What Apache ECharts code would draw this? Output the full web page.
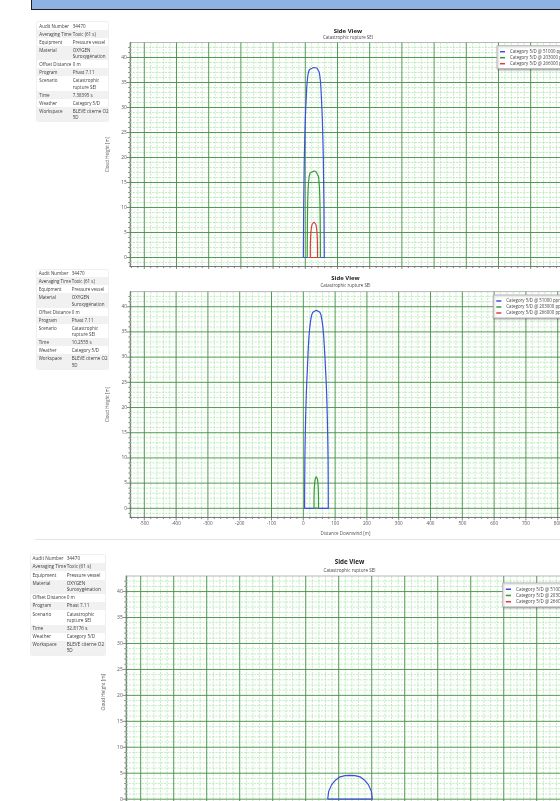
<!DOCTYPE html>
<html>
<head>
<meta charset="utf-8">
<script src="https://cdn.jsdelivr.net/npm/echarts@6/dist/echarts.min.js"></script>
<style>
html, body { margin: 0; padding: 0; background: #fff; }
#page { position: relative; width: 560px; height: 801px; overflow: hidden; background: #fff; }
.chart { position: absolute; left: 0; width: 560px; }
.bar { position: absolute; left: 31px; top: 0; width: 529px; height: 9px; background: #8fb2e4;
       border-left: 1px solid #1e1e1e; border-bottom: 1.5px solid #1e1e1e; z-index: 6; }
.info { position: absolute; background: #fff; box-shadow: 0 0 1.2px rgba(0,0,0,0.3);
        font-family: "Open Sans", "Noto Sans", sans-serif; color: #3c3c3c; z-index: 5; }
.info .rows .row { display: flex; white-space: nowrap; }
.info .rows .row:nth-child(even) { background: #f1f1f1; }
.info .k { flex: none; box-sizing: border-box; }
.info .pin { position: absolute; background: #2a2a2a; width: 2px; height: 2px; }
.sep { position: absolute; height: 1px; background: #e4e4e4; }
</style>
</head>
<body>
<div id="page">
  <div class="bar"></div>
  <div id="c1" class="chart"></div>
  <div id="c2" class="chart"></div>
  <div id="c3" class="chart"></div>
  <div class="sep" style="left:35px;top:539px;width:525px"></div>
</div>
<script>
// ---- axis ticks and legend ----
const X_TICKS = [-500, -400, -300, -200, -100, 0, 100, 200, 300, 400, 500, 600, 700, 800];
const Y_TICKS = [0, 5, 10, 15, 20, 25, 30, 35, 40];
const LEGEND_NAMES = ['Category 5/D @ 51000 ppm', 'Category 5/D @ 203000 ppm', 'Category 5/D @ 266000 ppm'];

// ---- info panel text ----
const INFO_LABELS = ['Audit Number', 'Averaging Time', 'Equipment', 'Material', 'Offset Distance',
                     'Program', 'Scenario', 'Time', 'Weather', 'Workspace'];
const INFO_VALUES = [['34470'], ['Toxic (61 s)'], ['Pressure vessel'], ['OXYGEN', 'Suroxygénation'], ['0 m'],
                     ['Phast 7.11'], ['Catastrophic', 'rupture SEI'], null, ['Category 5/D'], ['BLEVE citerne O2', '5D']];
const TIMES = ['7.38395 s', '10.2555 s', '32.8176 s'];

// ---- cloud contours [distance downwind m, height m] ----
// t = 7.38395 s
const T1_BLUE = [[-6,0],[-5.5,5],[-5,10],[-4,15],[-3,20],[-1.5,24],[0,27.5],[1.5,30],[3,32],[4.5,34],[6,35.3],[8,36.4],
  [10,37.1],[13,37.6],[17,37.9],[26,38],[36,37.9],[40,37.6],[43,37.1],[45,36.4],[47,35.3],[48.5,34],[50,32],[51.5,30],
  [53,27.5],[54.5,24],[56,20],[57,15],[58,10],[58.5,5],[59,0],[-6,0]];
const T1_GREEN = [[6,0],[6.3,4],[6.8,8],[7.5,11],[8.5,13.3],[10,15],[12,16.2],[15,16.9],[20,17.2],[26.5,17.3],[33,17.2],
  [38,16.9],[41,16.2],[43,15],[44.5,13.3],[45.5,11],[46.2,8],[46.7,4],[47,0],[6,0]];
const T1_RED = [[15.5,0],[15.7,2],[16.3,3.6],[17.3,4.9],[18.8,5.9],[21,6.6],[24,7.0],[27,7.1],[30,7.0],[33,6.6],[35,5.9],
  [36.4,4.9],[37.4,3.6],[37.9,2],[38,0],[15.5,0]];
// t = 10.2555 s
const T2_BLUE = [[4,0],[4.3,5],[5,10],[6,14],[7.3,18],[9,22],[10.8,25],[12.6,27.4],[14.3,30],[16,32.2],[18,34.3],[20.5,36],
  [23.3,37.4],[26.5,38.4],[30,38.9],[35,39.2],[41,39.3],[47,39.2],[52,38.9],[55.5,38.4],[58.5,37.4],[61.5,36],[64,34.3],
  [66,32.2],[68,30],[70,27.4],[72,25],[73.8,22],[75.5,18],[76.8,14],[77.8,10],[78.3,5],[78.5,0],[4,0]];
const T2_GREEN = [[33.5,0],[33.7,2],[34.3,3.6],[35.5,4.9],[37.3,5.8],[40,6.3],[42,6.3],[44.5,5.8],[46.2,4.9],[47.3,3.6],
  [47.8,2],[48,0],[33.5,0]];
const T2_RED = [];
// t = 32.8176 s
const T3_BLUE = [[66.6,0],[69.6,1.5],[78.7,2.8],[90.8,3.7],[103.9,4.3],[119.1,4.55],[134.2,4.6],[149.4,4.55],[164.5,4.3],
  [177.7,3.7],[189.8,2.8],[198.9,1.5],[201.9,0],[66.6,0]];
const T3_GREEN = [];
const T3_RED = [];

const FONT = '"Open Sans", "Noto Sans", sans-serif';
const X_MIN = -545, X_MAX = 810, Y_MIN = -1.8, Y_MAX = 43;
const COLORS = ['#3d4fdc', '#3a9a3a', '#e03a3a'];

// graph-paper grid: minor lines first so the major ones sit on top
function gridLines() {
  const minor = [], major = [];
  for (let v = -540; v <= X_MAX; v += 20) (v % 100 === 0 ? major : minor).push([0, v]);
  for (let v = -1; v <= 42; v += 1) (v % 5 === 0 ? major : minor).push([1, v]);
  return minor.concat(major);
}

function renderGrid(params, api) {
  const cs = params.coordSys;
  const dir = api.value(0), v = api.value(1);
  const major = dir === 0 ? v % 100 === 0 : v % 5 === 0;
  const gs = major ? { stroke: '#3f8f3f', lineWidth: 0.9 }
                   : { stroke: '#a4e3a4', lineWidth: 0.7, lineDash: [2, 1.2] };
  const ts = { stroke: '#555', lineWidth: 0.7 };
  const tl = major ? 3 : 1.6;
  if (dir === 0) {
    const x = api.coord([v, 0])[0];
    const y0 = cs.y, y1 = cs.y + cs.height;
    return { type: 'group', children: [
      { type: 'line', shape: { x1: x, y1: y0, x2: x, y2: y1 }, style: gs },
      { type: 'line', shape: { x1: x, y1: y1, x2: x, y2: y1 + tl }, style: ts }
    ]};
  }
  const y = api.coord([0, v])[1];
  const x0 = cs.x, x1 = cs.x + cs.width;
  return { type: 'group', children: [
    { type: 'line', shape: { x1: x0, y1: y, x2: x1, y2: y }, style: gs },
    { type: 'line', shape: { x1: x0 - tl, y1: y, x2: x0, y2: y }, style: ts }
  ]};
}

const PANELS = [
  { id: 'c1', top: 0, height: 269, gl: 129.8, gt: 42.5, gw: 436.3, gh: 224, cx: 347.9, titleY: 30.8, subY: 37.6,
    legL: 497, legT: 45.7, s: 1, series: [T1_BLUE, T1_GREEN, T1_RED],
    info: { left: 37, top: 22, width: 71, font: 4.5, pad: 0.7, line: 6.6, keyW: 35.7, padL: 2.3, time: TIMES[0], pin: [102, 25] } },
  { id: 'c2', top: 268, height: 272, gl: 130, gt: 23.6, gw: 430.9, gh: 225.8, cx: 345.5, titleY: 10.7, subY: 17.3,
    legL: 493.3, legT: 27, s: 1, series: [T2_BLUE, T2_GREEN, T2_RED],
    info: { left: 36.5, top: 269.5, width: 71, font: 4.5, pad: 0.7, line: 6.6, keyW: 35.2, padL: 2.2, time: TIMES[1], pin: null } },
  { id: 'c3', top: 540, height: 261, gl: 125.85, gt: 36, gw: 447.2, gh: 232.5, cx: 349.5, titleY: 22.7, subY: 31,
    legL: 502.7, legT: 43, s: 1.04, series: [T3_BLUE, T3_GREEN, T3_RED],
    info: { left: 31, top: 554.9, width: 74, font: 4.7, pad: 1.2, line: 5.9, keyW: 35.7, padL: 1.5, time: TIMES[2], pin: [100.5, 558] } }
];

function buildInfo(p) {
  const box = document.createElement('div');
  box.className = 'info';
  Object.assign(box.style, { left: p.left + 'px', top: p.top + 'px', width: p.width + 'px', fontSize: p.font + 'px' });
  const rows = document.createElement('div');
  rows.className = 'rows';
  INFO_LABELS.forEach((lab, i) => {
    const vals = INFO_VALUES[i] || [p.time];
    const r = document.createElement('div');
    r.className = 'row';
    r.style.padding = p.pad + 'px 0';
    r.style.lineHeight = p.line + 'px';
    const k = document.createElement('div');
    k.className = 'k';
    k.style.width = p.keyW + 'px';
    k.style.paddingLeft = p.padL + 'px';
    k.textContent = lab;
    const v = document.createElement('div');
    vals.forEach((t, j) => {
      if (j) v.appendChild(document.createElement('br'));
      v.appendChild(document.createTextNode(t));
    });
    r.appendChild(k); r.appendChild(v);
    rows.appendChild(r);
  });
  box.appendChild(rows);
  document.getElementById('page').appendChild(box);
  if (p.pin) {
    const pin = document.createElement('div');
    pin.className = 'info pin';
    pin.style.left = p.pin[0] + 'px';
    pin.style.top = p.pin[1] + 'px';
    pin.style.boxShadow = 'none';
    document.getElementById('page').appendChild(pin);
  }
}

PANELS.forEach(P => {
  const el = document.getElementById(P.id);
  el.style.top = P.top + 'px';
  el.style.height = P.height + 'px';
  const s = P.s;
  const chart = echarts.init(el, null, { renderer: 'canvas' });
  chart.setOption({
    animation: false,
    textStyle: { fontFamily: FONT },
    grid: { left: P.gl, top: P.gt, width: P.gw, height: P.gh, show: true, backgroundColor: '#fff',
            borderColor: '#9a9a9a', borderWidth: 0.7, containLabel: false, outerBoundsMode: 'none' },
    xAxis: {
      type: 'value', min: X_MIN, max: X_MAX,
      axisLine: { onZero: false, lineStyle: { color: '#6a6a6a', width: 0.8 } },
      axisTick: { show: false }, splitLine: { show: false },
      axisLabel: { customValues: X_TICKS, fontSize: 4.6 * s, color: '#555', margin: 4 * s, fontFamily: FONT },
      name: 'Distance Downwind [m]', nameLocation: 'middle', nameGap: 11 * s,
      nameTextStyle: { fontSize: 4.5 * s, color: '#555', fontFamily: FONT }
    },
    yAxis: {
      type: 'value', min: Y_MIN, max: Y_MAX,
      axisLine: { onZero: false, lineStyle: { color: '#6a6a6a', width: 0.8 } },
      axisTick: { show: false }, splitLine: { show: false },
      axisLabel: { customValues: Y_TICKS, fontSize: 4.8 * s, color: '#555', margin: 3 * s, fontFamily: FONT },
      name: 'Cloud Height [m]', nameLocation: 'middle', nameRotate: 90, nameGap: 9.5 * s,
      nameTextStyle: { fontSize: 4.5 * s, color: '#555', fontFamily: FONT }
    },
    legend: {
      data: LEGEND_NAMES, orient: 'vertical', left: P.legL, top: P.legT, icon: 'rect',
      itemWidth: 5 * s, itemHeight: 1.5 * s, itemGap: 0, padding: [3 * s, 4, 2 * s, 3 * s],
      backgroundColor: '#fff', borderColor: '#a8a8a8', borderWidth: 0.8,
      shadowBlur: 2, shadowColor: 'rgba(0,0,0,0.3)', shadowOffsetX: 1, shadowOffsetY: 1,
      selectedMode: false,
      textStyle: { fontSize: 4.4 * s, lineHeight: 6 * s, color: '#444', fontFamily: FONT }
    },
    graphic: [
      { type: 'text', x: P.cx, y: P.titleY, style: { text: 'Side View', fontSize: 6 * s, fontWeight: 'bold',
        fontFamily: FONT, fill: '#222', align: 'center', verticalAlign: 'middle', textAlign: 'center', textVerticalAlign: 'middle' } },
      { type: 'text', x: P.cx, y: P.subY, style: { text: 'Catastrophic rupture SEI', fontSize: 4.4 * s,
        fontFamily: FONT, fill: '#444', align: 'center', verticalAlign: 'middle', textAlign: 'center', textVerticalAlign: 'middle' } }
    ],
    series: [
      { type: 'custom', silent: true, clip: false, renderItem: renderGrid, data: gridLines(), z: 1 }
    ].concat(P.series.map((d, i) => ({
      type: 'line', name: LEGEND_NAMES[i], data: d, showSymbol: false, symbol: 'none', silent: true,
      lineStyle: { color: COLORS[i], width: 1.2 }, itemStyle: { color: COLORS[i] }, z: 3
    })))
  });
  buildInfo(P.info);
});
</script>
</body>
</html>
